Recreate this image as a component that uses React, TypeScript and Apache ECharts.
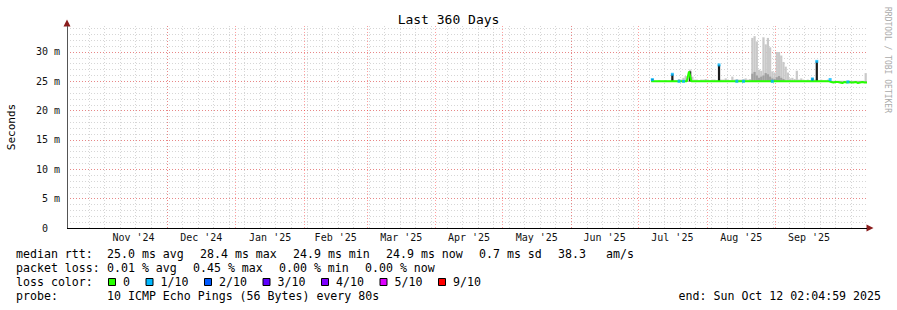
import React, { useEffect, useRef } from 'react';
import * as echarts from 'echarts';

const MONO = '"DejaVu Sans Mono", monospace';
const DAY = 86400000;
const END_TIME = Date.UTC(2025, 9, 12, 2, 4, 59);
const START_TIME = END_TIME - 360 * DAY;
const FIRST_DAY = Date.UTC(2025, 6, 7);
const FIRST_WEEK = Date.UTC(2024, 9, 20);

const monthStarts = [
  '2024-10-01', '2024-11-01', '2024-12-01', '2025-01-01', '2025-02-01', '2025-03-01', '2025-04-01',
  '2025-05-01', '2025-06-01', '2025-07-01', '2025-08-01', '2025-09-01', '2025-10-01', '2025-11-01',
];
const monthNames = ['Jan', 'Feb', 'Mar', 'Apr', 'May', 'Jun', 'Jul', 'Aug', 'Sep', 'Oct', 'Nov', 'Dec'];

// median rtt per day, ms (from Jul 7 2025)
const medianMs = [
  25.0, 25.0, 25.0, 25.0, 25.0, 25.0, 25.0, 25.0, 25.0, 25.0,
  25.0, 25.0, 25.0, 25.0, 25.0, 25.0, 25.0, 26.7, 25.0, 25.0,
  25.0, 25.0, 25.0, 25.0, 25.0, 25.0, 25.0, 25.0, 25.0, 25.0,
  25.0, 25.0, 25.0, 25.0, 25.0, 25.0, 25.0, 25.0, 25.0, 25.0,
  25.0, 25.0, 25.0, 25.0, 25.0, 25.0, 25.0, 25.0, 25.0, 25.0,
  25.0, 25.0, 25.0, 25.0, 25.0, 25.0, 25.0, 25.0, 25.0, 25.0,
  25.0, 25.0, 25.0, 25.0, 25.0, 25.0, 25.0, 25.0, 25.0, 25.0,
  25.0, 25.0, 25.0, 25.0, 25.0, 25.0, 25.0, 25.0, 25.0, 25.0,
  25.0, 24.9, 24.8, 24.9, 24.9, 24.8, 24.7, 24.9, 24.8, 24.9,
  24.8, 24.8, 24.9, 24.7, 24.8, 24.9, 24.8,
];

// lowest ping of the smoke, ms
const SMOKE_FLOOR = 24.9;

// upper edge of the dark smoke, ms
const smokeDarkMs = [
  25.0, 25.0, 25.0, 25.0, 25.0, 25.0, 25.0, 25.0, 25.0, 25.0,
  25.0, 25.0, 25.0, 25.0, 25.0, 25.0, 25.0, 25.0, 25.0, 25.0,
  25.0, 25.0, 25.0, 25.0, 25.0, 25.0, 25.0, 25.0, 25.0, 25.0,
  25.0, 25.0, 25.0, 25.0, 25.0, 25.0, 25.0, 25.0, 25.0, 25.0,
  25.0, 25.0, 25.0, 25.0, 25.0, 26.3, 26.6, 26.0, 25.6, 25.8,
  26.0, 26.4, 26.2, 25.8, 25.5, 25.4, 25.7, 25.9, 25.6, 25.4,
  25.0, 25.0, 25.0, 25.0, 25.0, 25.0, 25.0, 25.0, 25.0, 25.0,
  25.0, 25.0, 25.0, 25.0, 25.0, 25.0, 25.0, 25.0, 25.0, 25.0,
  25.0, 25.0, 25.0, 25.0, 25.0, 25.0, 25.0, 25.0, 25.0, 25.0,
  25.0, 25.0, 25.0, 25.0, 25.0, 25.0, 25.0,
];

// upper edge of the light smoke (max ping), ms
const smokeMaxMs = [
  25.3, 25.1, 25.1, 25.2, 25.1, 25.1, 25.2, 25.1, 25.1, 25.3,
  25.2, 25.2, 25.4, 25.3, 25.6, 25.9, 25.7, 27.0, 25.8, 25.3,
  25.3, 25.2, 25.3, 25.3, 25.4, 25.3, 25.2, 25.3, 25.3, 25.2,
  25.4, 25.3, 25.3, 25.5, 25.3, 25.2, 25.8, 25.3, 25.4, 25.3,
  25.3, 25.4, 25.5, 25.3, 25.4, 32.4, 32.7, 31.8, 27.0, 26.8,
  32.5, 31.3, 32.4, 30.8, 26.7, 26.5, 30.0, 30.0, 29.4, 28.3,
  27.5, 26.5, 25.5, 25.6, 25.4, 26.8, 25.3, 25.5, 25.3, 25.2,
  25.3, 25.2, 25.6, 25.3, 25.4, 25.2, 25.3, 25.2, 25.2, 25.3,
  25.2, 25.1, 25.1, 25.1, 25.1, 25.1, 25.1, 25.1, 25.1, 25.1,
  25.1, 25.1, 25.1, 25.1, 25.1, 25.1, 26.4,
];

// dark spikes (day index, top in ms)
const SPIKE_FLOOR = 25.0;
const spikeDays = [0, 9, 17, 30, 72, 74];
const spikeTops = [25.4, 26.2, 26.7, 27.8, 25.5, 28.4];

// samples with 1/10 loss (day index, value in ms)
const lossDays = [0, 9, 12, 14, 30, 38, 41, 54, 72, 74, 80, 88];
const lossLevels = [25.3, 26.2, 25.0, 25.0, 27.8, 25.0, 25.0, 25.0, 25.4, 28.4, 25.3, 24.9];

const lossLabels = ['0', '1/10', '2/10', '3/10', '4/10', '5/10', '9/10'];
const lossColors = ['#26ff00', '#00b8ff', '#0059ff', '#5e00ff', '#7e00ff', '#dd00ff', '#ff0000'];

const statRow1 = ['median rtt:', '25.0 ms avg', '28.4 ms max', '24.9 ms min', '24.9 ms now', '0.7 ms sd', '38.3', 'am/s'];
const statRow1X = [16, 107, 200, 293, 386, 479, 558, 606];
const statRow2 = ['packet loss:', '0.01 % avg', '0.45 % max', '0.00 % min', '0.00 % now'];
const statRow2X = [16, 107, 193, 279, 365];
const probeRow = ['probe:', '10 ICMP Echo Pings (56 Bytes) every 80s'];
const probeRowX = [16, 107];
const endText = 'end: Sun Oct 12 02:04:59 2025';

const TITLE = 'Last 360 Days';

function parseDay(s: string) {
  const [y, m, d] = s.split('-').map(Number);
  return Date.UTC(y, m - 1, d);
}

export default function App() {
  const ref = useRef<HTMLDivElement>(null);
  useEffect(() => {
    const chart = echarts.init(ref.current!, null, { renderer: 'svg' });

    const dayTimes = medianMs.map((_, i) => FIRST_DAY + i * DAY);
    const dayEnd = (i: number) => Math.min(END_TIME, dayTimes[i] + DAY);
    const withClose = (vals: number[]) => [
      ...dayTimes.map((t, i) => [t, vals[i]]),
      [END_TIME, vals[vals.length - 1]],
    ];

    // [start, end, low, high]
    const lightRects = smokeMaxMs.map((v, i) => [dayTimes[i], dayEnd(i), SMOKE_FLOOR, v]);
    const darkRects = smokeDarkMs.map((v, i) => [dayTimes[i], dayEnd(i), SMOKE_FLOOR, v]);
    const spikeRects = spikeDays.map((d, k) => [dayTimes[d], dayEnd(d), SPIKE_FLOOR, spikeTops[k]]);

    const months = monthStarts.map(parseDay);
    const monthLines = months.filter((t) => t > START_TIME && t < END_TIME);
    const monthMids: number[] = [];
    for (let i = 0; i < months.length - 1; i++) {
      const mid = (months[i] + months[i + 1]) / 2;
      if (mid > START_TIME && mid < END_TIME) monthMids.push(mid);
    }
    const weeks: number[] = [];
    for (let t = FIRST_WEEK; t < END_TIME; t += 7 * DAY) weeks.push(t);

    const txt = (text: string, x: number, y: number, extra: any = {}) => ({
      type: 'text',
      x,
      y,
      silent: true,
      style: {
        text,
        fontSize: 11.6,
        fontFamily: MONO,
        fill: '#000',
        textAlign: 'left',
        textVerticalAlign: 'middle',
        ...extra,
      },
    });

    const rowY = [254, 268, 282, 295.5];
    const graphics: any[] = [];
    statRow1.forEach((s, i) => graphics.push(txt(s, statRow1X[i], rowY[0])));
    statRow2.forEach((s, i) => graphics.push(txt(s, statRow2X[i], rowY[1])));
    graphics.push(txt('loss color:', 16, rowY[2]));
    let lx = 108;
    lossLabels.forEach((lab, i) => {
      graphics.push({
        type: 'rect',
        silent: true,
        shape: { x: lx + 0.5, y: rowY[2] - 3.5, width: 7, height: 7 },
        style: { fill: lossColors[i], stroke: '#000', lineWidth: 1 },
      });
      graphics.push(txt(lab, lx + 15, rowY[2]));
      lx = lx + 15 + 7 * lab.length + 15.5;
    });
    probeRow.forEach((s, i) => graphics.push(txt(s, probeRowX[i], rowY[3])));
    graphics.push(txt(endText, 881, rowY[3], { textAlign: 'right' }));
    graphics.push({
      type: 'text',
      x: 887,
      y: 7,
      rotation: -Math.PI / 2,
      silent: true,
      style: {
        text: 'RRDTOOL / TOBI OETIKER',
        fontSize: 8,
        fontFamily: MONO,
        fill: '#aaaaaa',
        textAlign: 'left',
        textVerticalAlign: 'middle',
      },
    });

    const rectSeries = (name: string, data: number[][], color: string, z: number) => ({
      name,
      type: 'custom',
      silent: true,
      z,
      clip: true,
      encode: { x: [0, 1], y: [2, 3] },
      data,
      renderItem: (params: any, api: any) => {
        const p0 = api.coord([api.value(0), api.value(3)]);
        const p1 = api.coord([api.value(1), api.value(2)]);
        const h = p1[1] - p0[1];
        if (h <= 0.05) return null;
        return {
          type: 'rect',
          shape: { x: p0[0], y: p0[1], width: p1[0] - p0[0], height: h },
          style: { fill: color },
        };
      },
    });

    const gridLineGray = { color: 'rgba(140,140,140,0.36)', width: 1, type: [1, 2] };
    const gridLineRed = { color: 'rgba(255,40,40,0.45)', width: 1, type: [1, 2] };

    const option: any = {
      animation: false,
      backgroundColor: '#ffffff',
      title: {
        text: TITLE,
        left: 'center',
        top: 8,
        textStyle: { fontFamily: MONO, fontSize: 13, fontWeight: 'normal', color: '#000' },
      },
      grid: { left: 67, right: 30, top: 26, bottom: 82, containLabel: false, outerBoundsMode: 'none' },
      xAxis: [
        {
          type: 'value', position: 'bottom', min: START_TIME, max: END_TIME, scale: true,
          axisLine: { show: false }, axisLabel: { show: false },
          axisTick: { show: false, customValues: weeks },
          splitLine: { show: true, lineStyle: gridLineGray, showMinLine: false, showMaxLine: false },
        },
        {
          type: 'value', position: 'bottom', min: START_TIME, max: END_TIME, scale: true,
          axisLine: { show: false }, axisLabel: { show: false },
          axisTick: { show: false, customValues: monthLines },
          splitLine: { show: true, lineStyle: gridLineRed, showMinLine: false, showMaxLine: false },
        },
        {
          type: 'value', position: 'bottom', min: START_TIME, max: END_TIME, scale: true,
          axisLine: {
            show: true, symbol: ['none', 'triangle'], symbolSize: [7, 7], symbolOffset: [0, 3],
            lineStyle: { color: '#8a1c1c', width: 0 },
          },
          axisTick: { show: false },
          splitLine: { show: false },
          axisLabel: {
            show: true,
            customValues: monthMids,
            margin: 4,
            fontFamily: MONO,
            fontSize: 10,
            color: '#111',
            hideOverlap: false,
            formatter: (v: number) => {
              const d = new Date(v);
              return `${monthNames[d.getUTCMonth()]} '${String(d.getUTCFullYear()).slice(2)}`;
            },
          },
        },
      ],
      yAxis: [
        {
          type: 'value', position: 'left', min: 0, max: 34.43, interval: 1,
          axisLine: { show: false }, axisTick: { show: false }, axisLabel: { show: false },
          splitLine: { show: true, lineStyle: gridLineGray, showMinLine: false, showMaxLine: false },
        },
        {
          type: 'value', position: 'left', min: 0, max: 34.43, interval: 5,
          name: 'Seconds', nameLocation: 'middle', nameGap: 50, nameRotate: 90,
          nameTextStyle: { fontFamily: MONO, fontSize: 11, color: '#000' },
          axisLine: {
            show: true, symbol: ['none', 'triangle'], symbolSize: [7, 7], symbolOffset: [0, 3],
            lineStyle: { color: '#8a1c1c', width: 0 },
          },
          axisTick: { show: false },
          splitLine: { show: true, lineStyle: gridLineRed, showMinLine: false, showMaxLine: false },
          axisLabel: {
            show: true, margin: 7, fontFamily: MONO, fontSize: 10, color: '#111',
            showMaxLabel: false,
            formatter: (v: number) => {
              if (Math.abs(v) < 1e-9) return '0\u00a0\u00a0';
              if (Math.abs(v / 5 - Math.round(v / 5)) < 1e-6) return `${Math.round(v)} m`;
              return '';
            },
          },
        },
      ],
      graphic: graphics,
      series: [
        rectSeries('smoke light', lightRects, '#c9c9c9', 2),
        rectSeries('smoke dark', darkRects, '#a0a0a0', 3),
        rectSeries('spike', spikeRects, '#1c1c1c', 4),
        {
          name: 'median rtt',
          type: 'line',
          symbol: 'none',
          silent: true,
          z: 5,
          data: withClose(medianMs),
          lineStyle: { color: '#26ff00', width: 2 },
          markLine: {
            silent: true,
            symbol: ['none', 'none'],
            label: { show: false },
            emphasis: { disabled: true },
            data: [
              { yAxis: 0, lineStyle: { color: '#000', width: 1, type: 'solid' } },
              { xAxis: START_TIME, lineStyle: { color: '#555', width: 1, type: 'solid' } },
            ],
          },
        },
        {
          name: 'loss 1/10',
          type: 'scatter',
          symbol: 'rect',
          symbolSize: [3, 3],
          silent: true,
          z: 6,
          itemStyle: { color: lossColors[1] },
          data: lossDays.map((d, k) => [FIRST_DAY + d * DAY + DAY / 2, lossLevels[k]]),
        },
      ],
    };

    chart.setOption(option);
    return () => chart.dispose();
  }, []);

  return <div ref={ref} style={{ position: 'absolute', left: 0, top: 0, width: 897, height: 310 }} />;
}
